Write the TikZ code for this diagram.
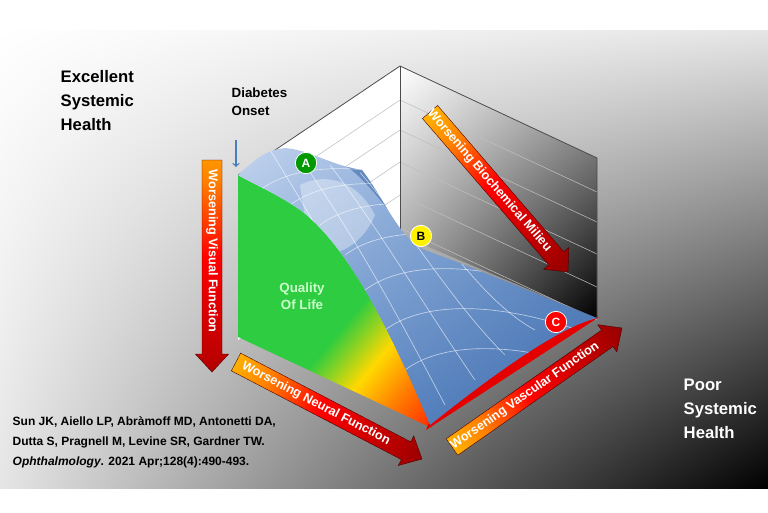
\documentclass[tikz,border=0pt]{standalone}
\usepackage{fontspec}
\setmainfont{Liberation Sans}
\usetikzlibrary{calc,shadings}
\definecolor{qolgreen}{RGB}{46,204,64}
\definecolor{onsetblue}{RGB}{74,126,187}
\definecolor{surflight}{RGB}{195,212,238}
\definecolor{surfmid}{RGB}{105,148,205}
\definecolor{surfdark}{RGB}{62,106,170}
\pgfdeclarehorizontalshading{warm}{100bp}{color(0bp)=(yellow); color(30bp)=(orange); color(48bp)=(red); color(75bp)=(red!70!black); color(100bp)=(red!40!black)}
\pgfdeclarehorizontalshading{qol}{100bp}{color(0bp)=(qolgreen); color(55bp)=(qolgreen); color(66bp)=(yellow!70!orange); color(75bp)=(orange); color(90bp)=(red); color(100bp)=(red)}
\tikzset{
  wall line/.style={gray!50,line width=0.4pt},
  box edge/.style={black!70,line width=0.6pt},
  mesh/.style={white,opacity=0.6,line width=0.5pt},
  marker/.style={circle,draw=white,line width=0.6pt,minimum size=16pt,inner sep=0pt,font=\bfseries\small},
  arrowtext/.style={white,font=\bfseries\fontsize{9.5}{10}\selectfont,inner sep=0pt}
}
% wide shaded arrow: start, end, angle, text
\newcommand\warrow[4]{%
  \coordinate (h) at ($(#2)!13.5pt!(#1)$);
  \shade[shading=warm,shading angle=#3,draw=red!30!black,line width=0.3pt]
    ($(#1)!7.5pt!90:(h)$) -- ($(h)!7.5pt!-90:(#1)$) -- ($(h)!12.5pt!-90:(#1)$) -- (#2)
    -- ($(h)!12.5pt!90:(#1)$) -- ($(h)!7.5pt!90:(#1)$) -- ($(#1)!7.5pt!-90:(h)$) -- cycle;
  \node[arrowtext,rotate=#3] at ($(#1)!0.47!(h)$) {#4};
}
\newcommand\surfpath{(238,175) .. controls (255,160) and (265,150) .. (285,148)
  .. controls (310,150) and (330,165) .. (362,170)
  .. controls (385,200) and (400,240) .. (425,250)
  .. controls (480,270) and (550,300) .. (597,318)
  .. controls (555,328) and (480,385) .. (430,425)
  .. controls (390,330) and (350,250) .. (303,212)
  .. controls (280,195) and (255,185) .. (238,175) -- cycle}

\begin{document}
\begin{tikzpicture}[x=0.75pt,y=-0.75pt]
  \useasboundingbox (0,0) rectangle (768,512);
  % background
  \shade[upper left=white,upper right=black!10,lower left=black!10,lower right=black] (0,30) rectangle (768,488);
  % back walls
  \fill[white] (238,175) -- (400,66) -- (400,240) -- (238,340) -- cycle;
  \shade[upper left=white,upper right=black!30,lower left=black!45,lower right=black] (400,66) -- (597,158) -- (597,318) -- (400,235) -- cycle;
  \foreach \y in {100,130,162,195,228}{
    \draw[wall line] (400,\y) -- ++(-162,109);
    \draw[wall line] (400,\y) -- ++(197,92);
  }
  \draw[box edge] (238,175) -- (400,66) -- (597,158) -- (597,318);
  \draw[box edge] (400,66) -- (400,235);
  % quality of life face and red base
  \shade[shading=qol,shading angle=-40] (238,175) -- (238,337) -- (432,428)
    .. controls (390,330) and (350,250) .. (303,212)
    .. controls (280,195) and (255,185) .. (238,175) -- cycle;
  \fill[red!90!black] (426,430) -- (599,317) -- (560,330) -- (430,420) -- cycle;
  % surface
  \shade[upper left=surflight,upper right=surfmid,lower left=surfmid,lower right=surfdark] \surfpath;
  \begin{scope}
    \clip \surfpath;
    \fill[white,opacity=0.35] (300,185) .. controls (330,170) and (360,185) .. (375,215) .. controls (360,250) and (330,260) .. (310,250) -- cycle;
    \fill[surfdark,opacity=0.6] (345,165) .. controls (380,190) and (400,235) .. (430,250) -- (600,320) -- (600,250) -- (345,150) -- cycle;
    \foreach \a/\b in {260/190,290/205,320/225,345/255,365/290,385/330,405/370}
      \draw[mesh] (\a,\b) .. controls (\a+40,\b-30) and (\a+120,\b-30) .. (\a+220,\b+10);
    \foreach \s in {0,30,60,90,120}
      \draw[mesh] (270+\s,150+\s/4) .. controls (320+\s,230) and (360+\s,300) .. (415+\s,430-\s/1.2);
  \end{scope}
  % onset
  \node (onset) [anchor=south west,align=left,font=\bfseries\fontsize{10}{13}\selectfont] at (227,120) {Diabetes\\Onset};
  \coordinate (onsetend) at (236,167);
  \draw[onsetblue,line width=1pt,->] (236,140) -- (onsetend);
  % markers
  \node (mA) [marker,fill=green!60!black,text=white] at (306,163) {A};
  \node (mB) [marker,fill=yellow] at (421,236) {B};
  \node (mC) [marker,fill=red,text=white] at (556,322) {C};
  \node (qol) [white!80!green,align=center,font=\bfseries\fontsize{10}{13}\selectfont] at (302,296) {Quality\\Of Life};
  % arrows
  \coordinate (vs) at (212,160); \coordinate (ve) at (212,372);
  \coordinate (ns) at (236,362); \coordinate (ne) at (422,459);
  \coordinate (cs) at (452,447); \coordinate (ce) at (622,328);
  \coordinate (bs) at (430,112); \coordinate (be) at (568,272);
  \warrow{vs}{ve}{-90}{Worsening Visual Function}
  \warrow{ns}{ne}{-27.5}{Worsening Neural Function}
  \warrow{cs}{ce}{35}{Worsening Vascular Function}
  \warrow{bs}{be}{-49.2}{Worsening Biochemical Milieu}
  % labels
  \node (good) [anchor=north west,align=left,font=\bfseries\fontsize{12.5}{18}\selectfont] at (56,66) {Excellent\\Systemic\\Health};
  \node (poor) [anchor=north west,align=left,white,font=\bfseries\fontsize{12.5}{18}\selectfont] at (679,374) {Poor\\Systemic\\Health};
  \node (cite) [anchor=north west,align=left,font=\bfseries\fontsize{9}{15}\selectfont] at (8,412) {Sun JK, Aiello LP, Abràmoff MD, Antonetti DA,\\Dutta S, Pragnell M, Levine SR, Gardner TW.\\\textit{Ophthalmology}. 2021 Apr;128(4):490-493.};
\end{tikzpicture}
\end{document}
